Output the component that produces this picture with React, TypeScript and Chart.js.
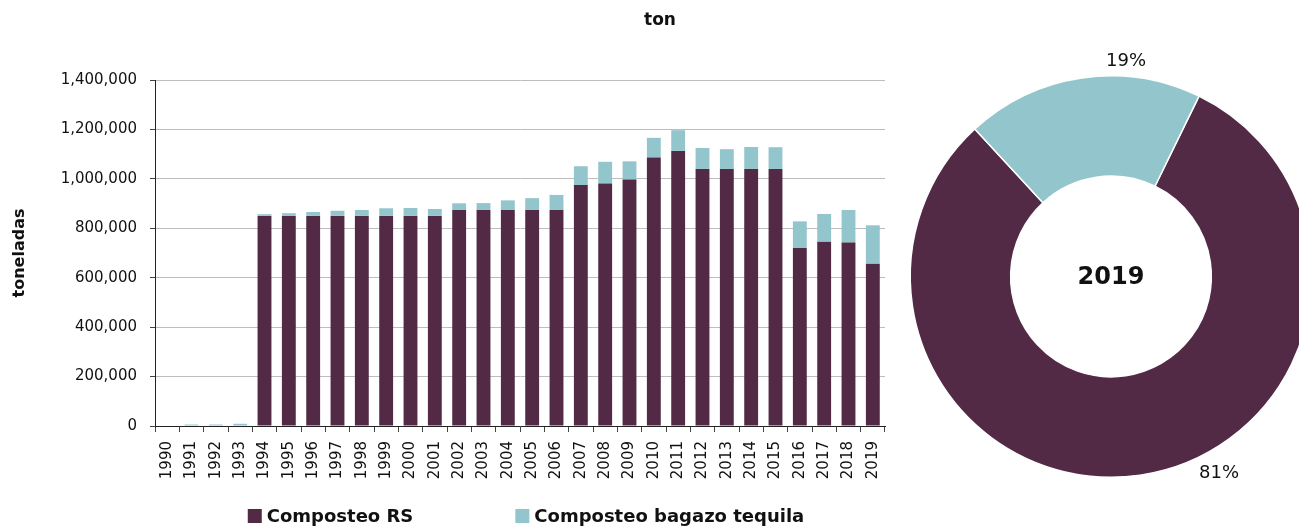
import React, { useEffect, useRef } from "react";
import { Chart, registerables } from "chart.js";

Chart.register(...registerables);

// Annual composting volumes (tonnes)
const years = [
  "1990", "1991", "1992", "1993", "1994", "1995", "1996", "1997", "1998", "1999",
  "2000", "2001", "2002", "2003", "2004", "2005", "2006", "2007", "2008", "2009",
  "2010", "2011", "2012", "2013", "2014", "2015", "2016", "2017", "2018", "2019",
];
const compostRS = [
  0, 0, 0, 0, 850000, 850000, 850000, 850000, 850000, 850000,
  850000, 850000, 874000, 874000, 874000, 874000, 874000, 975000, 981000, 997000,
  1086000, 1113000, 1040000, 1040000, 1040000, 1040000, 720000, 746000, 742000, 657000,
];
const compostTequila = [
  0, 6000, 6000, 9000, 7000, 11000, 16000, 21000, 24000, 31000,
  32000, 28000, 27000, 28000, 39000, 48000, 61000, 76000, 88000, 74000,
  80000, 84000, 85000, 80000, 89000, 88000, 108000, 112000, 132000, 155000,
];
const seriesNames = ["Composteo RS", "Composteo bagazo tequila"];
const seriesColors = ["#522A46", "#93C6CC"];
const yMax = 1400000;
const yStep = 200000;
const titleText = "ton";
const yAxisTitle = "toneladas";

const FONT = "'DejaVu Sans', sans-serif";

// Legend row drawn under the bar chart
const bottomLegend = {
  id: "bottomLegend",
  afterDraw(chart: any, _args: any, opts: any) {
    const { ctx, chartArea } = chart;
    const items = chart.data.datasets.map((ds: any) => ({ label: ds.label, color: ds.backgroundColor }));
    ctx.save();
    ctx.font = `bold ${opts.fontSize}px ${FONT}`;
    const box = opts.boxSize;
    const widths = items.map((it: any) => box + opts.textGap + ctx.measureText(it.label).width);
    const total = widths.reduce((a: number, b: number) => a + b, 0) + opts.gap * (items.length - 1);
    let x = (chartArea.left + chartArea.right) / 2 - total / 2 + opts.shiftX;
    const y = chart.height - opts.bottom;
    ctx.textBaseline = "middle";
    ctx.textAlign = "left";
    items.forEach((it: any, i: number) => {
      ctx.fillStyle = it.color;
      ctx.fillRect(x, y - box / 2, box, box);
      ctx.fillStyle = "#111";
      ctx.fillText(it.label, x + box + opts.textGap, y + 1);
      x += widths[i] + opts.gap;
    });
    ctx.restore();
  },
};

// Percentage labels around the ring and the year in its centre
const ringLabels = {
  id: "ringLabels",
  afterDraw(chart: any, _args: any, opts: any) {
    const { ctx } = chart;
    const meta = chart.getDatasetMeta(0);
    const values: number[] = chart.data.datasets[0].data;
    const total = values.reduce((a, b) => a + b, 0);
    ctx.save();
    ctx.textAlign = "center";
    ctx.textBaseline = "middle";
    ctx.fillStyle = "#111";
    ctx.font = `${opts.fontSize}px ${FONT}`;
    let cx = 0;
    let cy = 0;
    meta.data.forEach((arc: any, i: number) => {
      const p = arc.getProps(["x", "y", "startAngle", "endAngle", "outerRadius"], true);
      cx = p.x;
      cy = p.y;
      const place = opts.placement[i];
      const a = p.startAngle + (p.endAngle - p.startAngle) * place.along;
      const r = p.outerRadius + place.out;
      ctx.fillText(`${Math.round((values[i] / total) * 100)}%`, p.x + r * Math.cos(a), p.y + r * Math.sin(a));
    });
    ctx.font = `bold ${opts.centerSize}px ${FONT}`;
    ctx.fillText(opts.centerText, cx, cy + 1);
    ctx.restore();
  },
};

function BarChart() {
  const ref = useRef<HTMLCanvasElement>(null);
  useEffect(() => {
    const chart = new Chart(ref.current!, {
      type: "bar",
      data: {
        labels: years,
        datasets: [
          { label: seriesNames[0], data: compostRS, backgroundColor: seriesColors[0], borderWidth: 0 },
          { label: seriesNames[1], data: compostTequila, backgroundColor: seriesColors[1], borderWidth: 0 },
        ],
      },
      options: {
        animation: false,
        responsive: false,
        events: [],
        layout: { padding: { top: 80, right: 414, left: 0, bottom: 0 } },
        datasets: { bar: { categoryPercentage: 1, barPercentage: 0.57 } },
        plugins: {
          legend: { display: false },
          tooltip: { enabled: false },
          bottomLegend: { fontSize: 18, boxSize: 14, textGap: 5, gap: 102, shiftX: 6, bottom: 10 },
        } as any,
        scales: {
          x: {
            stacked: true,
            afterFit: (s: any) => { s.height = 100; },
            border: { color: "#222", width: 1 },
            grid: { display: true, drawOnChartArea: false, drawTicks: true, tickLength: 6, tickColor: "#444", offset: true },
            ticks: {
              color: "#111",
              font: { family: FONT, size: 15 },
              minRotation: 90,
              maxRotation: 90,
              autoSkip: false,
              padding: 9,
            },
          },
          y: {
            stacked: true,
            min: 0,
            max: yMax,
            afterFit: (s: any) => { s.width = 155; },
            border: { color: "#222", width: 1 },
            grid: { color: "#bdbdbd", lineWidth: 1, drawTicks: true, tickLength: 5, tickColor: "#444" },
            ticks: {
              stepSize: yStep,
              color: "#111",
              font: { family: FONT, size: 15 },
              padding: 13,
              callback: (v: any) => Number(v).toLocaleString("en-US"),
            },
            title: {
              display: true,
              text: yAxisTitle,
              color: "#111",
              font: { family: FONT, size: 16, weight: "bold" },
              padding: { top: 10, bottom: 0 },
            },
          },
        },
      },
      plugins: [bottomLegend],
    });
    return () => chart.destroy();
  }, []);
  return (
    <canvas
      ref={ref}
      width={1299}
      height={526}
      style={{ position: "absolute", left: 0, top: 0, width: 1299, height: 526, display: "block" }}
    />
  );
}

function RingChart() {
  const ref = useRef<HTMLCanvasElement>(null);
  useEffect(() => {
    const last = years.length - 1;
    const chart = new Chart(ref.current!, {
      type: "doughnut",
      data: {
        labels: seriesNames,
        datasets: [
          {
            data: [compostRS[last], compostTequila[last]],
            backgroundColor: seriesColors,
            borderColor: "#ffffff",
            borderWidth: 1.5,
          },
        ],
      },
      options: {
        animation: false,
        responsive: false,
        events: [],
        rotation: 26,
        cutout: "50%",
        layout: { padding: { top: 75, bottom: 48, left: 0, right: 0 } },
        plugins: {
          legend: { display: false },
          tooltip: { enabled: false },
          ringLabels: {
            fontSize: 18,
            centerSize: 24,
            centerText: years[last],
            placement: [
              { along: 0.43, out: 24 },
              { along: 0.68, out: 15 },
            ],
          },
        } as any,
      },
      plugins: [ringLabels],
    });
    return () => chart.destroy();
  }, []);
  return (
    <canvas
      ref={ref}
      width={440}
      height={526}
      style={{ position: "absolute", left: 891, top: 0, width: 440, height: 526, display: "block" }}
    />
  );
}

export default function App() {
  return (
    <div
      style={{
        position: "fixed",
        left: 0,
        top: 0,
        width: 1299,
        height: 526,
        overflow: "hidden",
        background: "#ffffff",
        fontFamily: FONT,
      }}
    >
      <BarChart />
      <RingChart />
      <div
        style={{
          position: "absolute",
          left: 0,
          top: 9,
          width: 1320,
          textAlign: "center",
          fontWeight: "bold",
          fontSize: 17,
          color: "#111",
          lineHeight: "20px",
        }}
      >
        {titleText}
      </div>
    </div>
  );
}
